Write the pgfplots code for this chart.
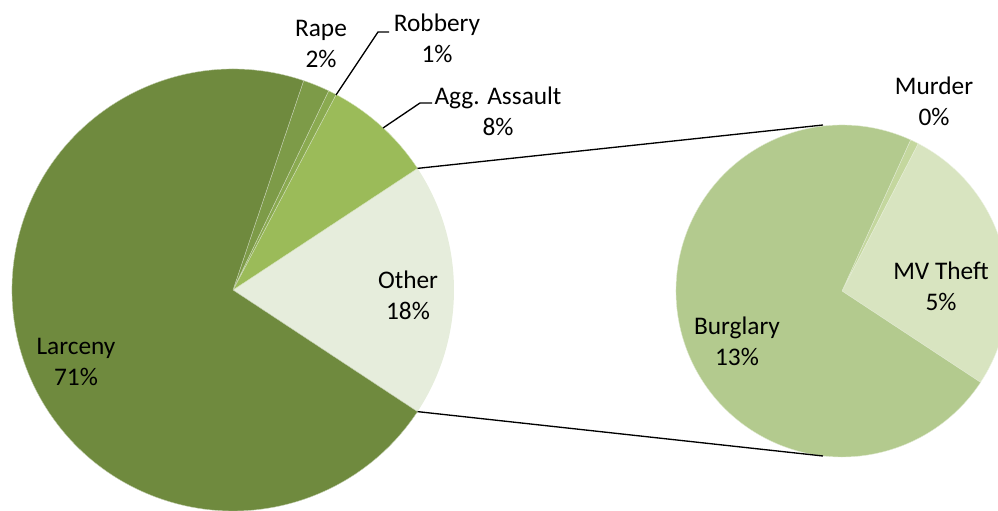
\documentclass[border=0pt]{standalone}
\usepackage{pgfplots}
\usepackage{pgfplotstable}
\pgfplotsset{compat=1.18}
\usepackage{fontspec}
\setmainfont{Carlito}

\definecolor{cLarceny}{RGB}{111,138,62}
\definecolor{cRape}{RGB}{125,155,72}
\definecolor{cRobbery}{RGB}{138,170,80}
\definecolor{cAgg}{RGB}{155,187,89}
\definecolor{cOther}{RGB}{230,237,220}
\definecolor{cBurg}{RGB}{179,202,142}
\definecolor{cMurder}{RGB}{196,215,158}
\definecolor{cMV}{RGB}{216,228,192}

% main pie, counterclockwise after the "Other" slice
\pgfplotstableread{
name value color
Agg 8.0 cAgg
Robbery 0.6 cRobbery
Rape 1.95 cRape
Larceny 70.9 cLarceny
}\maintable
% split of "Other"
\pgfplotstableread{
name value color
MVTheft 4.95 cMV
Murder 0.15 cMurder
Burglary 13.45 cBurg
}\othertable

% #1 table, #2 cx, #3 cy, #4 radius (px), #5 start angle, #6 total
\newcommand\drawpie[6]{%
  \pgfplotstablegetrowsof{#1}%
  \pgfmathtruncatemacro\nrows{\pgfplotsretval-1}%
  \edef\curang{#5}%
  \pgfplotsforeachungrouped \i in {0,...,\nrows}{%
    \pgfplotstablegetelem{\i}{value}\of{#1}\let\val\pgfplotsretval
    \pgfplotstablegetelem{\i}{color}\of{#1}\let\col\pgfplotsretval
    \pgfmathsetmacro\endang{\curang+\val/#6*360}%
    \fill[color=\col, draw=white!60!\col, line width=0.3pt] (axis cs:#2,#3) -- ++(\curang:#4*0.75pt)
      arc[start angle=\curang, end angle=\endang, radius=#4*0.75pt] -- cycle;
    \let\curang\endang
  }%
}

\begin{document}
\begin{tikzpicture}
\begin{axis}[
    x=0.75pt, y=0.75pt,
    xmin=0, xmax=998, ymin=0, ymax=510,
    hide axis,
    clip=true,
]
\pgfplotsextra{%
  % sum of the second pie = "Other"
  \def\othersum{0}%
  \pgfplotstableforeachcolumnelement{value}\of\othertable\as\v{%
    \pgfmathsetmacro\othersum{\othersum+\v}}%
  \pgfmathsetmacro\half{\othersum*1.8}%
  % Other slice of the main pie
  \fill[cOther] (axis cs:233,220) -- ++(-\half:165.75pt)
    arc[start angle=-\half, end angle=\half, radius=165.75pt] -- cycle;
  \drawpie{\maintable}{233}{220}{221}{\half}{100}%
  \drawpie{\othertable}{842}{219}{166}{-\half}{\othersum}%
  % connectors
  \draw[black, line width=1pt] (axis cs:233,220) ++(\half:165.75pt) -- (axis cs:823,385);
  \draw[black, line width=1pt] (axis cs:233,220) ++(-\half:165.75pt) -- (axis cs:823,54);
}
% leader lines
\draw[black, line width=1pt] (axis cs:336,415) -- (axis cs:378,478) -- (axis cs:389,478);
\draw[black, line width=1pt] (axis cs:383,382) -- (axis cs:420,407) -- (axis cs:432,407);

\tikzset{lbl/.style={align=center, inner sep=0pt, font=\fontsize{19}{23.25}\selectfont}}
\node[lbl] at (axis cs:321,466) {Rape\\2\%};
\node[lbl] at (axis cs:437,472) {Robbery\\1\%};
\node[lbl] at (axis cs:498,399) {Agg. Assault\\8\%};
\node[lbl] at (axis cs:408,215) {Other\\18\%};
\node[lbl] at (axis cs:76,148) {Larceny\\71\%};
\node[lbl] at (axis cs:934,409) {Murder\\0\%};
\node[lbl] at (axis cs:941,224) {MV Theft\\5\%};
\node[lbl] at (axis cs:737,169) {Burglary\\13\%};
\end{axis}
\pgfresetboundingbox
\path (0,0) rectangle (748.5pt,382.5pt);
\end{tikzpicture}
\end{document}
